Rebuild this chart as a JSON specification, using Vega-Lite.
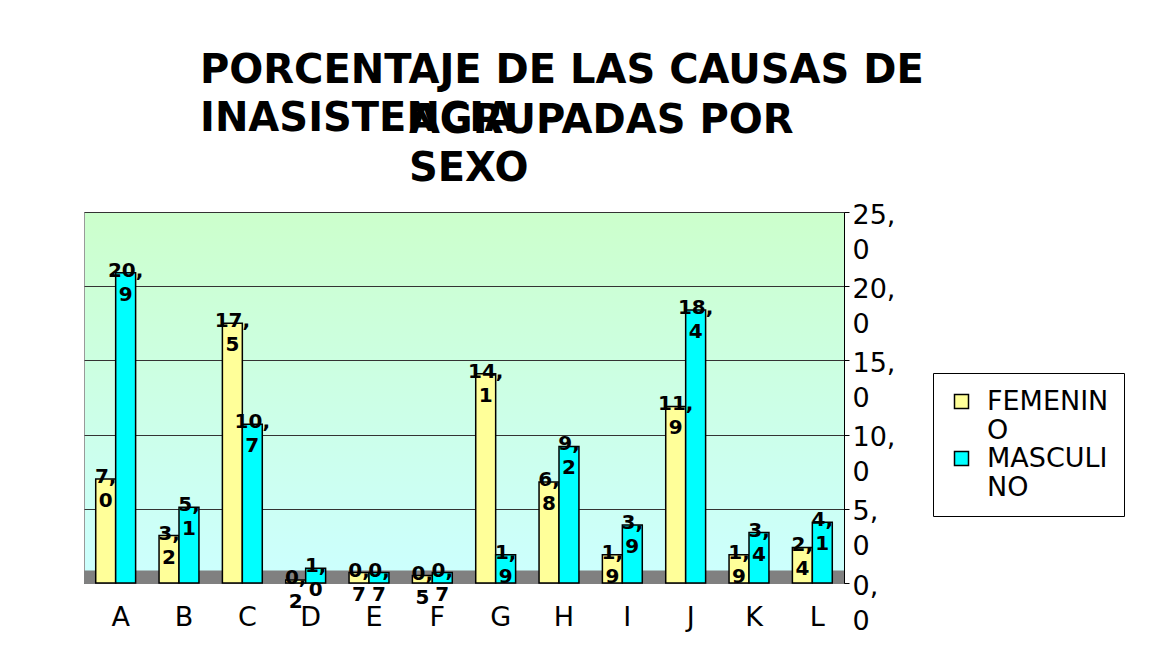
{
  "$schema": "https://vega.github.io/schema/vega-lite/v6.json",
  "width": 760,
  "height": 371,
  "autosize": {"type": "none"},
  "padding": {"left": 84, "top": 212, "right": 326, "bottom": 75},
  "background": "white",
  "config": {
    "font": "DejaVu Sans",
    "locale": {"number": {"decimal": ",\n", "thousands": ".", "grouping": [3], "currency": ["", " €"]}},
    "view": {
      "fill": {"gradient": "linear", "x1": 0, "y1": 0, "x2": 0, "y2": 1,
        "stops": [{"offset": 0, "color": "#CCFFCC"}, {"offset": 1, "color": "#CCFFFF"}]},
      "stroke": "#999999",
      "strokeWidth": 1
    }
  },
  "title": {
    "text": ["PORCENTAJE DE LAS CAUSAS DE", "INASISTENCIA"],
    "subtitle": ["\u200b\u00a0\u00a0\u00a0\u00a0\u00a0\u00a0\u00a0\u00a0\u00a0\u00a0\u00a0\u00a0\u00a0\u00a0\u00a0AGRUPADAS POR", "\u200b\u00a0\u00a0\u00a0\u00a0\u00a0\u00a0\u00a0\u00a0\u00a0\u00a0\u00a0\u00a0\u00a0\u00a0\u00a0SEXO"],
    "anchor": "start",
    "frame": "group",
    "dx": 116,
    "offset": 12,
    "font": "DejaVu Sans",
    "fontSize": 40,
    "fontWeight": "bold",
    "lineHeight": 48,
    "color": "black",
    "subtitleFont": "DejaVu Sans",
    "subtitleFontSize": 40,
    "subtitleFontWeight": "bold",
    "subtitleLineHeight": 48,
    "subtitleColor": "black",
    "subtitlePadding": -38
  },
  "data": {
    "values": [
      {"causa": "A", "sexo": "FEMENINO", "valor": 7.0},
      {"causa": "A", "sexo": "MASCULINO", "valor": 20.9},
      {"causa": "B", "sexo": "FEMENINO", "valor": 3.2},
      {"causa": "B", "sexo": "MASCULINO", "valor": 5.1},
      {"causa": "C", "sexo": "FEMENINO", "valor": 17.5},
      {"causa": "C", "sexo": "MASCULINO", "valor": 10.7},
      {"causa": "D", "sexo": "FEMENINO", "valor": 0.2},
      {"causa": "D", "sexo": "MASCULINO", "valor": 1.0},
      {"causa": "E", "sexo": "FEMENINO", "valor": 0.7},
      {"causa": "E", "sexo": "MASCULINO", "valor": 0.7},
      {"causa": "F", "sexo": "FEMENINO", "valor": 0.5},
      {"causa": "F", "sexo": "MASCULINO", "valor": 0.7},
      {"causa": "G", "sexo": "FEMENINO", "valor": 14.1},
      {"causa": "G", "sexo": "MASCULINO", "valor": 1.9},
      {"causa": "H", "sexo": "FEMENINO", "valor": 6.8},
      {"causa": "H", "sexo": "MASCULINO", "valor": 9.2},
      {"causa": "I", "sexo": "FEMENINO", "valor": 1.9},
      {"causa": "I", "sexo": "MASCULINO", "valor": 3.9},
      {"causa": "J", "sexo": "FEMENINO", "valor": 11.9},
      {"causa": "J", "sexo": "MASCULINO", "valor": 18.4},
      {"causa": "K", "sexo": "FEMENINO", "valor": 1.9},
      {"causa": "K", "sexo": "MASCULINO", "valor": 3.4},
      {"causa": "L", "sexo": "FEMENINO", "valor": 2.4},
      {"causa": "L", "sexo": "MASCULINO", "valor": 4.1}
    ]
  },
  "layer": [
    {
      "data": {"values": [{}]},
      "mark": {"type": "rect", "color": "#808080"},
      "encoding": {
        "y": {"datum": 0.85, "type": "quantitative"},
        "y2": {"datum": 0}
      }
    },
    {
      "mark": {"type": "bar", "stroke": "black", "strokeWidth": 1.5},
      "encoding": {
        "x": {
          "field": "causa", "type": "nominal",
          "scale": {"paddingInner": 0.37, "paddingOuter": 0.185},
          "axis": {"title": null, "labelAngle": 0, "labelFontSize": 27, "labelColor": "black", "labelPadding": 21, "labelOffset": 5, "ticks": false, "domainColor": "#808080", "domainWidth": 1}
        },
        "xOffset": {"field": "sexo", "type": "nominal", "sort": ["FEMENINO", "MASCULINO"]},
        "y": {
          "field": "valor", "type": "quantitative",
          "scale": {"domain": [0, 25], "nice": false},
          "axis": {"title": null, "orient": "right", "values": [0, 5, 10, 15, 20, 25], "grid": true, "gridColor": "#333333", "gridWidth": 1, "domainColor": "black", "tickColor": "black", "tickSize": 5, "labelFontSize": 27, "labelColor": "black", "labelExpr": "[datum.label + ',', '0']", "labelBaseline": "alphabetic", "labelOffset": 11, "labelLineHeight": 35, "labelAlign": "left", "labelPadding": 3}
        },
        "color": {
          "field": "sexo", "type": "nominal",
          "scale": {"domain": ["FEMENINO", "MASCULINO"], "range": ["#FFFF99", "#00FFFF"]},
          "legend": {"orient": "none", "legendX": 849, "legendY": 161, "title": null, "symbolType": "square", "symbolSize": 196, "symbolStrokeColor": "black", "symbolStrokeWidth": 1.5, "labelFontSize": 27, "labelColor": "black", "labelExpr": "[substring(datum.label, 0, 7), substring(datum.label, 7)]", "labelBaseline": "middle", "strokeColor": "black", "fillColor": "white", "padding": 15, "rowPadding": 0, "labelOffset": 12, "labelLimit": 300}
        }
      }
    },
    {
      "mark": {"type": "text", "align": "center", "baseline": "top", "dy": -12, "fontSize": 20, "fontWeight": "bold", "lineBreak": "\n", "lineHeight": 24, "color": "black"},
      "encoding": {
        "x": {"field": "causa", "type": "nominal"},
        "xOffset": {"field": "sexo", "type": "nominal", "sort": ["FEMENINO", "MASCULINO"]},
        "y": {"field": "valor", "type": "quantitative"},
        "text": {"field": "valor", "type": "quantitative", "format": ".1f"}
      }
    }
  ]
}
